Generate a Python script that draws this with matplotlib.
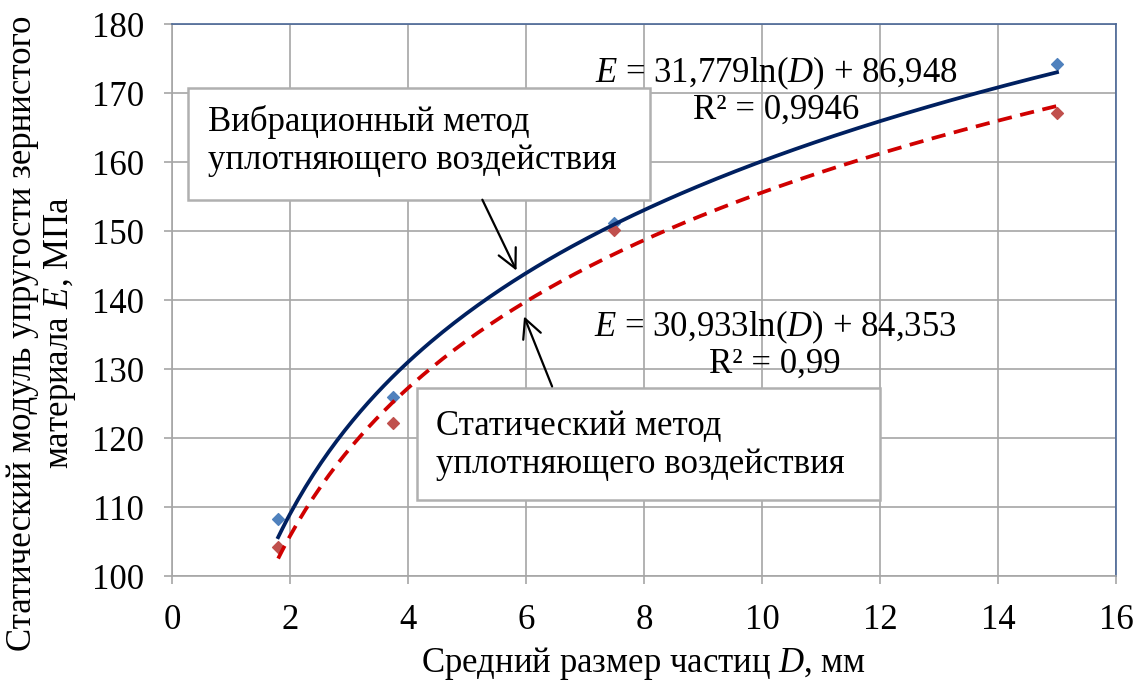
import numpy as np
import matplotlib
matplotlib.use('Agg')
import matplotlib.pyplot as plt
from matplotlib.patches import Rectangle

plt.rcParams['font.family'] = ['Liberation Serif', 'DejaVu Serif']
plt.rcParams['mathtext.fontset'] = 'custom'
plt.rcParams['mathtext.rm'] = 'Liberation Serif'
plt.rcParams['mathtext.it'] = 'Liberation Serif:italic'

# data
D = [1.8, 3.75, 7.5, 15]
E_vibr = [108.2, 125.9, 151.1, 174.2]
E_stat = [104.2, 122.2, 150.2, 167.1]

# trend coefficients printed on the chart: E = a*ln(D) + b
coef_vibr = (31.779, 86.948)
coef_stat = (30.933, 84.353)

eq_vibr = '$E$ = 31,779ln($D$) + 86,948\nR² = 0,9946'
eq_stat = '$E$ = 30,933ln($D$) + 84,353\nR² = 0,99'
lbl_vibr = 'Вибрационный метод\nуплотняющего воздействия'
lbl_stat = 'Статический метод\nуплотняющего воздействия'

fs = 25
grid_c = '#a6a6a6'
frame_c = '#4a6796'

fig = plt.figure(figsize=(11.38, 6.8), dpi=100)
ax = fig.add_axes([0.1511, 0.1529, 0.8296, 0.8118])

d_fit = np.linspace(min(D), max(D), 200)
ax.plot(d_fit, coef_vibr[0] * np.log(d_fit) + coef_vibr[1], color='#002060', lw=2.7, zorder=3)
ax.plot(d_fit, coef_stat[0] * np.log(d_fit) + coef_stat[1], color='#d00000', lw=2.7,
        dashes=(3.8, 2.3), zorder=3)
ax.scatter(D, E_vibr, marker='D', s=36, color='#4f81bd', zorder=2)
ax.scatter(D, E_stat, marker='D', s=36, color='#c0504d', zorder=2)

ax.set_xlim(0, 16)
ax.set_ylim(100, 180)
ax.set_xticks(range(0, 17, 2))
ax.set_yticks(range(100, 181, 10))
ax.grid(True, color=grid_c, lw=1.2)
ax.set_axisbelow(True)
for s in ['left', 'bottom']:
    ax.spines[s].set_color(grid_c)
    ax.spines[s].set_linewidth(1.2)
for s in ['right', 'top']:
    ax.spines[s].set_color(frame_c)
    ax.spines[s].set_linewidth(1.2)
ax.tick_params(axis='both', labelsize=fs, color=grid_c, length=6, width=1.2, pad=14)

ax.set_xlabel('Средний размер частиц $D$, мм', fontsize=fs, labelpad=6)
fig.text(42 / 1138, 1 - 333 / 680,
         'Статический модуль упругости зернистого\nматериала $E$, МПа',
         rotation=90, ha='center', va='center', multialignment='center',
         fontsize=fs, linespacing=1.15)

# text boxes
ax.add_patch(Rectangle((0.27, 154.5), 7.83, 16.2, facecolor='white', edgecolor='#b0b0b0',
                       lw=1.8, zorder=4))
ax.text(0.61, 163.0, lbl_vibr, fontsize=fs, ha='left', va='center', linespacing=1.2, zorder=5)
ax.add_patch(Rectangle((4.15, 111.0), 7.85, 16.2, facecolor='white', edgecolor='#b0b0b0',
                       lw=1.8, zorder=4))
ax.text(4.48, 118.9, lbl_stat, fontsize=fs, ha='left', va='center', linespacing=1.2, zorder=5)

# arrows
ax.annotate('', xy=(5.86, 143.9), xytext=(5.24, 154.9),
            arrowprops=dict(arrowstyle='->', color='black', lw=1.6, mutation_scale=34), zorder=6)
ax.annotate('', xy=(5.95, 138.0), xytext=(6.46, 127.1),
            arrowprops=dict(arrowstyle='->', color='black', lw=1.6, mutation_scale=34), zorder=6)

# equations
ax.text(10.24, 170.3, eq_vibr, fontsize=fs, ha='center', va='center', linespacing=1.07, zorder=5)
ax.text(10.22, 133.5, eq_stat, fontsize=fs, ha='center', va='center', linespacing=1.07, zorder=5)

fig.savefig('out.png', dpi=100)
